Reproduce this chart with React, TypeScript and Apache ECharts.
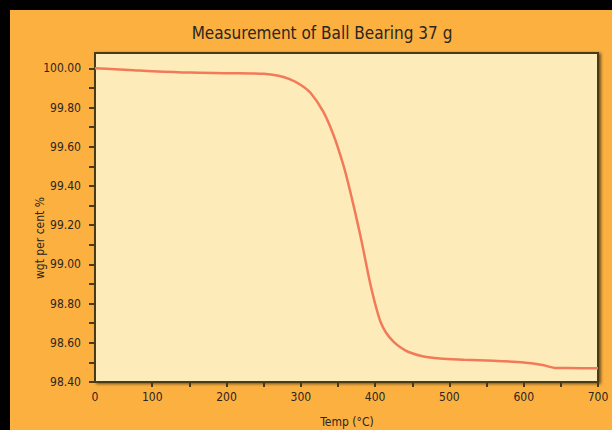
import React, { useEffect, useRef } from "react";
import * as echarts from "echarts";

const temps = [23, 50, 75, 100, 150, 200, 250, 270, 285, 300, 313, 330, 344, 357, 366, 380, 393, 400, 407, 415, 425, 435, 445, 465, 487, 520, 560, 600, 615, 627, 642, 660, 700];
const weights = [100.0, 99.995, 99.99, 99.985, 99.978, 99.975, 99.972, 99.962, 99.945, 99.915, 99.875, 99.78, 99.66, 99.51, 99.38, 99.15, 98.91, 98.80, 98.71, 98.65, 98.605, 98.575, 98.553, 98.53, 98.52, 98.514, 98.508, 98.5, 98.493, 98.485, 98.472, 98.471, 98.47];

const xLabelValues = [23, 100, 200, 300, 400, 500, 600, 700];
const xTickValues = [100, 150, 200, 250, 300, 350, 400, 450, 500, 550, 600, 650, 700];
const yLabelValues = [98.4, 98.6, 98.8, 99.0, 99.2, 99.4, 99.6, 99.8, 100.0];
const yTickValues = [98.4, 98.5, 98.6, 98.7, 98.8, 98.9, 99.0, 99.1, 99.2, 99.3, 99.4, 99.5, 99.6, 99.7, 99.8, 99.9, 100.0];

const FONT = "'Liberation Sans Narrow', 'DejaVu Sans Condensed', 'Roboto', sans-serif";
const TEXT = "#2a2620";
const AXIS = "#4a3b18";

export default function App() {
  const ref = useRef<HTMLDivElement>(null);
  useEffect(() => {
    if (!ref.current) return;
    const chart = echarts.init(ref.current, undefined, { renderer: "svg" });
    chart.setOption({
      animation: false,
      backgroundColor: "#FBB040",
      graphic: [
        {
          type: "text",
          x: 312,
          y: 23,
          style: {
            text: "Measurement of Ball Bearing 37 g",
            fontFamily: FONT,
            fontSize: 17,
            fill: TEXT,
            align: "center",
            verticalAlign: "middle",
          },
        },
        {
          type: "text",
          x: 30,
          y: 228,
          rotation: Math.PI / 2,
          style: {
            text: "wgt per cent %",
            fontFamily: FONT,
            fontSize: 12,
            fill: TEXT,
            align: "center",
            verticalAlign: "middle",
          },
        },
        {
          type: "text",
          x: 337,
          y: 412,
          style: {
            text: "Temp (°C)",
            fontFamily: FONT,
            fontSize: 12,
            fill: TEXT,
            align: "center",
            verticalAlign: "middle",
          },
        },
      ],
      grid: {
        left: 85,
        top: 43,
        right: 14,
        bottom: 48,
        show: true,
        backgroundColor: "#FDECB9",
        borderColor: AXIS,
        borderWidth: 2,
        shadowColor: "rgba(0,0,0,0.55)",
        shadowBlur: 3,
        shadowOffsetX: 2,
        shadowOffsetY: 1,
      },
      xAxis: {
        type: "value",
        min: 23,
        max: 700,
        splitLine: { show: false },
        axisLine: { show: true, lineStyle: { color: AXIS, width: 2 } },
        axisTick: {
          show: true,
          customValues: xTickValues,
          length: 5,
          lineStyle: { color: AXIS, width: 2 },
        },
        axisLabel: {
          customValues: xLabelValues,
          formatter: (v: number) => (v < 50 ? "0" : String(v)),
          fontFamily: FONT,
          fontSize: 12,
          color: TEXT,
          margin: 9,
        },
      },
      yAxis: {
        type: "value",
        min: 98.4,
        max: 100.078,
        splitLine: { show: false },
        axisLine: { show: true, lineStyle: { color: AXIS, width: 2 } },
        axisTick: {
          show: true,
          customValues: yTickValues,
          length: 6,
          lineStyle: { color: AXIS, width: 2 },
        },
        axisLabel: {
          customValues: yLabelValues,
          formatter: (v: number) => v.toFixed(2),
          fontFamily: FONT,
          fontSize: 12,
          color: TEXT,
          margin: 14,
        },
      },
      series: [
        {
          type: "line",
          data: temps.map((t, i) => [t, weights[i]]),
          smooth: 0.3,
          showSymbol: false,
          lineStyle: { color: "#F27A58", width: 2.5 },
        },
      ],
    });
    return () => chart.dispose();
  }, []);
  return (
    <div style={{ position: "fixed", left: 0, top: 0, width: 612, height: 430, background: "#000" }}>
      <div ref={ref} style={{ position: "absolute", left: 10, top: 10, width: 602, height: 420 }} />
    </div>
  );
}
